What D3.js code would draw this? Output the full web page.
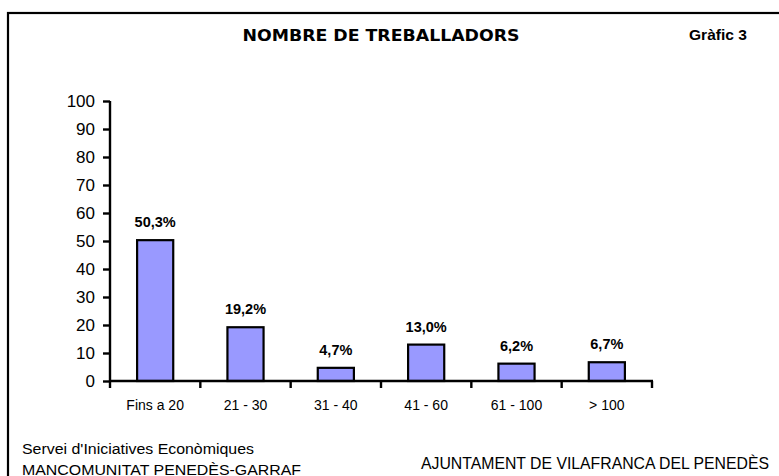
<!DOCTYPE html>
<html>
<head>
<meta charset="utf-8">
<script src="https://cdn.jsdelivr.net/npm/d3@7"></script>
<style>
  html, body { margin: 0; padding: 0; background: #fff; }
  svg { display: block; }
</style>
</head>
<body>
<script>
const categories = ["Fins a 20", "21 - 30", "31 - 40", "41 - 60", "61 - 100", "> 100"];
const values = [50.3, 19.2, 4.7, 13.0, 6.2, 6.7];
const valueLabels = ["50,3%", "19,2%", "4,7%", "13,0%", "6,2%", "6,7%"];
const yTicks = [0, 10, 20, 30, 40, 50, 60, 70, 80, 90, 100];
const title = "NOMBRE DE TREBALLADORS";
const chartNo = "Gràfic 3";
const footerLeft = ["Servei d'Iniciatives Econòmiques", "MANCOMUNITAT PENEDÈS-GARRAF"];
const footerRight = "AJUNTAMENT DE VILAFRANCA DEL PENEDÈS";

const W = 779, H = 476;
const svg = d3.select("body").append("svg").attr("width", W).attr("height", H);

// frame
svg.append("rect").attr("x", 8).attr("y", 13).attr("width", 820).attr("height", 520)
  .attr("fill", "none").attr("stroke", "#000").attr("stroke-width", 2.2);

svg.append("text").attr("x", 381).attr("y", 41).attr("text-anchor", "middle")
  .attr("font-family", "DejaVu Sans").attr("font-weight", "bold").attr("font-size", 16.5)
  .attr("textLength", 277).attr("lengthAdjust", "spacingAndGlyphs")
  .text(title);
svg.append("text").attr("x", 689).attr("y", 39.5)
  .attr("font-family", "Liberation Sans, Arial").attr("font-weight", "bold").attr("font-size", 14)
  .attr("textLength", 58).attr("lengthAdjust", "spacingAndGlyphs")
  .text(chartNo);

const x0 = 110, x1 = 652, yTop = 101, yBot = 381;
const x = d3.scaleBand().domain(categories).range([x0, x1]).paddingInner(0.6).paddingOuter(0.3);
const xb = d3.scaleBand().domain(categories).range([x0, x1]).padding(0);
const y = d3.scaleLinear().domain([0, 100]).range([yBot, yTop]);

// bars
svg.append("g").selectAll("rect").data(values).join("rect")
  .attr("x", (d, i) => x(categories[i]))
  .attr("y", d => y(d))
  .attr("width", x.bandwidth())
  .attr("height", d => y(0) - y(d))
  .attr("fill", "#9999ff").attr("stroke", "#000").attr("stroke-width", 2.2);

// value labels
svg.append("g").selectAll("text").data(values).join("text")
  .attr("x", (d, i) => x(categories[i]) + x.bandwidth() / 2)
  .attr("y", d => y(d) - 13)
  .attr("text-anchor", "middle")
  .attr("font-family", "Liberation Sans, Arial").attr("font-weight", "bold").attr("font-size", 14.5)
  .text((d, i) => valueLabels[i]);

// y axis
const yAxis = svg.append("g").attr("transform", `translate(${x0},0)`)
  .call(d3.axisLeft(y).tickValues(yTicks).tickSize(7).tickPadding(8).tickFormat(d3.format("d")));
yAxis.select(".domain").attr("stroke", "#000").attr("stroke-width", 2.4).attr("d", `M0,${yTop}V${yBot}`);
yAxis.selectAll(".tick line").attr("stroke", "#000").attr("stroke-width", 2.4);
yAxis.selectAll(".tick text").attr("font-family", "Liberation Sans, Arial").attr("font-size", 17).attr("fill", "#000");

// x axis
const xTickPos = categories.map(c => xb(c)).concat([x1]);
const xAxis = svg.append("g").attr("transform", `translate(0,${yBot})`);
xAxis.append("line").attr("x1", x0 - 1).attr("x2", x1 + 1).attr("stroke", "#000").attr("stroke-width", 2.4);
xAxis.selectAll("line.t").data(xTickPos).join("line").attr("class", "t")
  .attr("x1", d => d).attr("x2", d => d).attr("y1", 0).attr("y2", 7)
  .attr("stroke", "#000").attr("stroke-width", 2.4);
xAxis.selectAll("text").data(categories).join("text")
  .attr("x", d => xb(d) + xb.bandwidth() / 2).attr("y", 28.5)
  .attr("text-anchor", "middle")
  .attr("font-family", "Liberation Sans, Arial").attr("font-size", 14)
  .text(d => d);

// footer
svg.append("g").selectAll("text").data(footerLeft).join("text")
  .attr("x", 22).attr("y", (d, i) => 454 + i * 20.5)
  .attr("font-family", "Liberation Sans, Arial").attr("font-size", 15.5)
  .attr("textLength", (d, i) => i === 0 ? 232 : 279).attr("lengthAdjust", "spacingAndGlyphs")
  .text(d => d);
svg.append("g").attr("transform", "translate(421,469) scale(1,1.15)")
  .append("text").attr("x", 0).attr("y", 0)
  .attr("font-family", "Liberation Sans, Arial").attr("font-size", 14.5)
  .attr("textLength", 348).attr("lengthAdjust", "spacingAndGlyphs")
  .text(footerRight);
</script>
</body>
</html>
